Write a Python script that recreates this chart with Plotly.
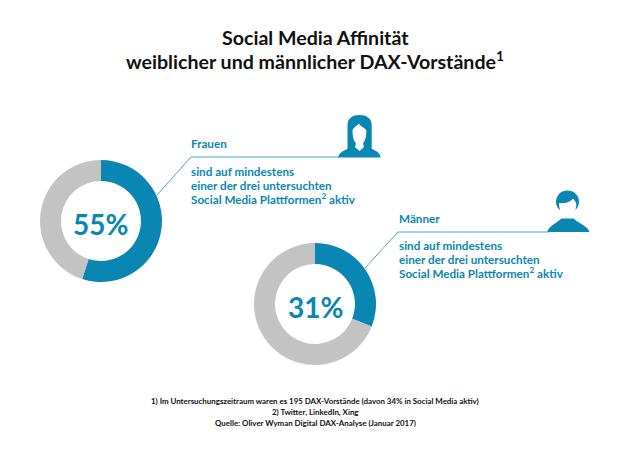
import plotly.graph_objects as go

# donut values in percent
labels = ["aktiv", "nicht aktiv"]
frauen_values = [55, 45]
maenner_values = [31, 69]

BLUE = "#0a86b2"
LIGHT_BLUE = "#45a5c9"
GREY = "#c3c3c3"
BLACK = "#111111"
FONT = "Lato"

# the page has an 8px body margin, so the plot covers pixels 8..630 / 8..450
PAD = 8
W, H = 630, 450
PW, PH = W - PAD, H - PAD


def dom(cx, cy, r):
    # pixel circle -> paper domain
    return dict(x=[(cx - PAD - r) / PW, (cx - PAD + r) / PW],
                y=[1 - (cy - PAD + r) / PH, 1 - (cy - PAD - r) / PH])


def donut(values, cx, cy):
    return go.Pie(
        labels=labels, values=values, hole=0.655, sort=False, direction="clockwise",
        rotation=0, textinfo="none", hoverinfo="label+percent", showlegend=False,
        marker=dict(colors=[BLUE, GREY], line=dict(width=0)),
        domain=dom(cx, cy, 61),
    )


fig = go.Figure()
fig.add_trace(donut(frauen_values, 101, 221))
fig.add_trace(donut(maenner_values, 315, 304))


def add_text(x, y, text, size, color, anchor="left", weight=700):
    fig.add_annotation(
        x=x, y=y, xref="x", yref="y", text=text, showarrow=False, xanchor=anchor, yanchor="middle",
        align=anchor, font=dict(family=FONT, size=size, color=color, weight=weight),
    )


# title
add_text(315, 37, "Social Media Affinität", 19.6, BLACK, "center")
add_text(315, 60, "weiblicher und männlicher DAX-Vorstände<sup>1</sup>", 19.6, BLACK, "center")

# donut centres
add_text(100, 224, f"{frauen_values[0]}%", 28, BLUE, "center")
add_text(315, 307, f"{maenner_values[0]}%", 28, BLUE, "center")

# callouts
add_text(189, 143, "Frauen", 11.7, BLUE)
add_text(189, 171, "sind auf mindestens", 11.7, BLUE)
add_text(189, 185, "einer der drei untersuchten", 11.7, BLUE)
add_text(189, 198, "Social Media Plattformen<sup>2</sup> aktiv", 11.7, BLUE)

add_text(397, 218, "Männer", 11.7, BLUE)
add_text(397, 245, "sind auf mindestens", 11.7, BLUE)
add_text(397, 259, "einer der drei untersuchten", 11.7, BLUE)
add_text(397, 272, "Social Media Plattformen<sup>2</sup> aktiv", 11.7, BLUE)

# footnotes
add_text(315, 401, "1) Im Untersuchungszeitraum waren es 195 DAX-Vorstände (davon 34% in Social Media aktiv)", 7.9, BLACK, "center")
add_text(315, 412, "2) Twitter, LinkedIn, Xing", 7.9, BLACK, "center")
add_text(315, 423, "Quelle: Oliver Wyman Digital DAX-Analyse (Januar 2017)", 7.9, BLACK, "center")

shapes = [
    # leader lines
    dict(type="path", path="M157,195 L191,157 L340,157", line=dict(color=LIGHT_BLUE, width=1)),
    dict(type="path", path="M365,268 L398,232 L549,232", line=dict(color=LIGHT_BLUE, width=1)),
    # woman icon
    dict(type="path", fillcolor=BLUE, line=dict(width=0),
         path="M338.3,157.5 C339.5,152 344,150.5 347.5,149 L347.5,125 C347.5,118 353,115 359.5,115 "
              "C366,115 371.7,118 371.7,125 L371.7,149 C375.5,150.5 379.5,152 380.8,157.5 Z"),
    dict(type="path", fillcolor="white", line=dict(width=0),
         path="M352.5,130 C354,127 357,126 359,123.5 C360,126 364,127.5 366.3,130 C366.5,137 365,141 363,143.5 "
              "L364,147 L359.5,151 L355,147 L356,143.5 C354,141 352.5,137 352.5,130 Z"),
    # man icon
    dict(type="path", fillcolor=BLUE, line=dict(width=0),
         path="M547.3,232 C548.5,226 555,224.5 561.5,218.5 L573.5,218.5 C580,224.5 588,226 589.5,232 Z"),
    dict(type="circle", xref="x", yref="y", x0=556, x1=579, y0=190.5, y1=213, fillcolor=BLUE, line=dict(width=0)),
    dict(type="path", fillcolor="white", line=dict(width=0),
         path="M559,203 C562.5,203.5 570,203 573,198.5 C574.5,200.5 576,202 576.3,204 C576.3,212 572,217.5 567.5,218 "
              "C563,217.5 559,212 559,203 Z"),
]
fig.update_layout(
    width=PW, height=PH, margin=dict(l=0, r=0, t=0, b=0),
    paper_bgcolor="white", plot_bgcolor="rgba(0,0,0,0)", shapes=shapes,
    xaxis=dict(range=[PAD, W], visible=False, fixedrange=True),
    yaxis=dict(range=[H, PAD], visible=False, fixedrange=True),
)
fig.write_html("out.html")
